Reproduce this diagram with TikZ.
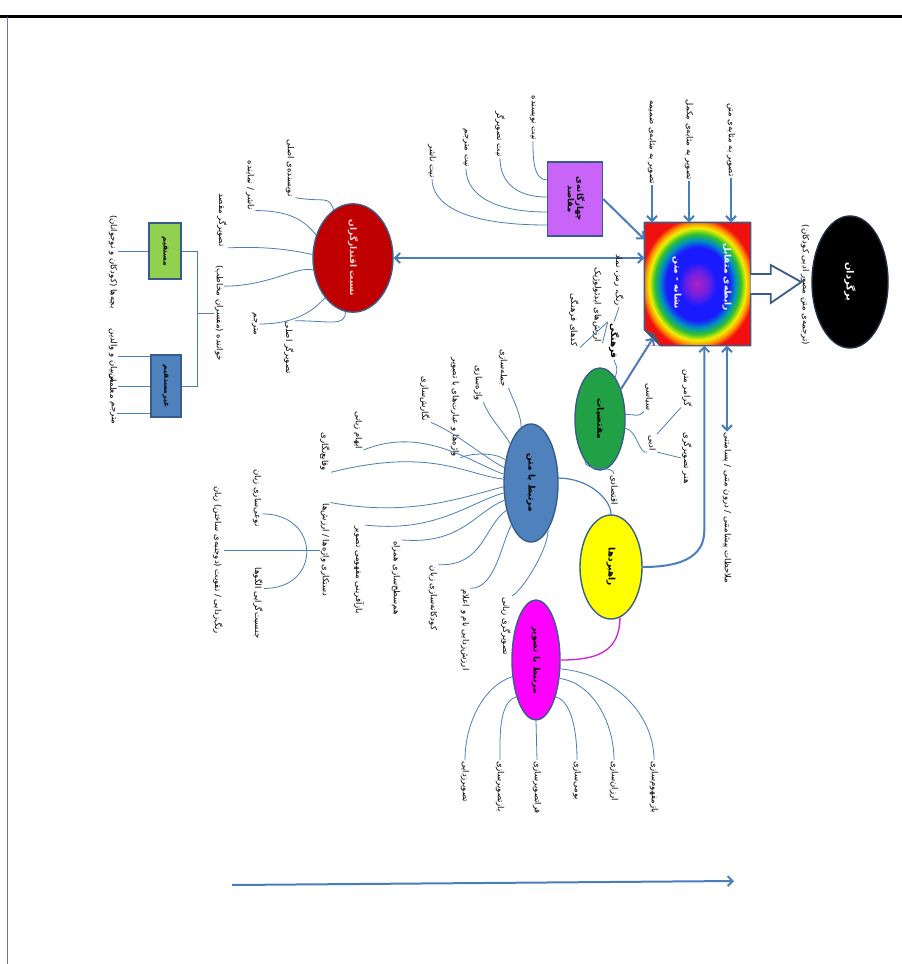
\documentclass[tikz,border=0pt]{standalone}
\usepackage{fontspec}
\usepackage{graphicx}
\newfontfamily\farsi[Script=Arabic]{DejaVu Sans}
\TeXXeTstate=1
\usetikzlibrary{positioning,shapes.geometric,arrows.meta,calc}
\newcommand{\rl}[1]{{\farsi\beginR #1\endR}}

\definecolor{linkblue}{HTML}{4A7EBB}
\definecolor{edgeblue}{HTML}{385D8A}
\definecolor{redfill}{HTML}{C00000}
\definecolor{greenfill}{HTML}{22A046}
\definecolor{bluefill}{HTML}{4F81BD}
\definecolor{violetfill}{HTML}{C864F8}
\definecolor{limefill}{HTML}{92D050}
\definecolor{yellowfill}{HTML}{FFFF00}
\definecolor{magentafill}{HTML}{FF00FF}
\definecolor{magline}{HTML}{D020D8}
\definecolor{foldc}{HTML}{6B4A5A}
\definecolor{rbA}{HTML}{B020C0}
\definecolor{rbB}{HTML}{7020E0}
\definecolor{rbC}{HTML}{1A1AFF}
\definecolor{rbD}{HTML}{0090C0}
\definecolor{rbE}{HTML}{30C030}
\definecolor{rbF}{HTML}{F0F000}
\definecolor{rbG}{HTML}{FF9000}
\definecolor{rbH}{HTML}{F01010}
\pgfdeclareradialshading{rainbow}{\pgfpoint{0bp}{0bp}}{color(0bp)=(rbA); color(5bp)=(rbB); color(9bp)=(rbC); color(15bp)=(rbC); color(18bp)=(rbD); color(20.5bp)=(rbE); color(23bp)=(rbF); color(25bp)=(rbG); color(27bp)=(rbH); color(50bp)=(rbH)}

\begin{document}
\begin{tikzpicture}[x=1pt,y=-1pt,
  lbl/.style={font=\fontsize{8.5}{9}\selectfont, rotate=-90, inner sep=1pt},
  ell/.style={ellipse, draw=edgeblue, line width=1.4pt, inner sep=0pt},
  rbx/.style={rectangle, draw=edgeblue, line width=1.4pt, inner sep=0pt},
  title/.style={font=\bfseries\fontsize{9}{10}\selectfont},
  branch/.style={linkblue, line width=0.8pt},
  thickarr/.style={linkblue, line width=2pt, -{Straight Barb[length=5pt,width=10pt]}},
  dblarr/.style={linkblue, line width=2pt, {Straight Barb[length=5pt,width=10pt]}-{Straight Barb[length=5pt,width=10pt]}}]

\useasboundingbox (0,0) rectangle (902,964);
\fill[white] (0,0) rectangle (902,964);
% page frame
\draw[line width=3pt] (0,16) -- (902,16);
\draw[linkblue!70!gray, line width=0.8pt] (7,17) -- (7,964);

% output
\node[ell, fill=black, draw=edgeblue!50!black, minimum width=76, minimum height=132, font=\bfseries\fontsize{10}{11}\selectfont, text=white] (trans) at (850,282)
  {\rotatebox{-90}{\rl{برگردان}}};
\node[lbl] (transSub) at (805,285) {\rl{(ترجمه‌ی متن مصور ادبی کودکان)}};

% core box
\node[rbx, draw=none, shading=rainbow, minimum width=105, minimum height=122] (core) at (697.5,284) {};
\fill[white] (core.south west) -- ++(16,0) -- ++(-16,-16) -- cycle;
\fill[foldc] ($(core.south west)+(0,-16)$) -- ($(core.south west)+(16,0)$) -- ($(core.south west)+(11,-12)$) -- cycle;
\draw[edgeblue, line width=1.4pt, line join=round] (core.north west) -- (core.north east) -- (core.south east)
  -- ($(core.south west)+(16,0)$) -- ($(core.south west)+(0,-16)$) -- cycle;
\node[lbl, title, text=white] (coreA) at (727,277) {\rl{رابطه‌ی متقابل}};
\node[lbl, title, text=white] (coreB) at (677,283) {\rl{نشانه - متن}};
\draw[edgeblue, line width=1.8pt, fill=white, line join=miter]
  ($(core.east)+(0,-10)$) -- ++(20,0) -- ++(0,-9) -- ($(trans.west)+(-10,0)$)
  -- ($(core.east)+(20,19)$) -- ++(0,-9) -- ($(core.east)+(0,10)$);

% image roles
\node[lbl] (asText) at (731,140) {\rl{تصویر به مثابه‌ی متن}};
\node[lbl] (asCompl) at (689,140) {\rl{تصویر به مثابه‌ی مکمل}};
\node[lbl] (asApp) at (652,142) {\rl{تصویر به مثابه‌ی ضمیمه}};
\foreach \n in {asText,asCompl,asApp}
  \draw[thickarr] (\n.east) -- (\n.east |- core.north);

% intentions
\node[rbx, fill=violetfill, minimum width=55, minimum height=74, font=\bfseries\fontsize{8.5}{9}\selectfont] (intent) at (575,199)
  {\rotatebox{-90}{\begin{tabular}{@{}c@{}}\rl{چهارگانه‌ی}\\\rl{مقاصد}\end{tabular}}};
\node[lbl] (intA) at (533,118) {\rl{نیت نویسنده}};
\node[lbl] (intI) at (500,134) {\rl{نیت تصویرگر}};
\node[lbl] (intT) at (466,148) {\rl{نیت مترجم}};
\node[lbl] (intP) at (432,161) {\rl{نیت ناشر}};
\draw[branch] ($(intent.west)+(0,-19)$) .. controls +(-14,0) and +(0,14) .. (intA.east);
\draw[branch] ($(intent.west)+(0,-2)$) .. controls +(-35,0) and +(0,20) .. (intI.east);
\draw[branch] ($(intent.west)+(0,13)$) .. controls +(-60,0) and +(0,22) .. (intT.east);
\draw[branch] ($(intent.west)+(0,26)$) .. controls +(-85,0) and +(0,25) .. (intP.east);
\draw[thickarr] (intent.east) -- ($(core.north west)+(0,17)$);

% agents
\node[ell, fill=redfill, minimum width=80, minimum height=108, title, text=red!15] (agents) at (353,258)
  {\rotatebox{-90}{\rl{نسبت اقتدارگران}}};
\draw[dblarr] (agents.east) -- (agents.east -| core.west);
\node[lbl] (agAuth) at (290,168) {\rl{نویسنده‌ی اصلی}};
\node[lbl] (agPub) at (250,185) {\rl{ناشر / نماینده}};
\node[lbl] (agTIll) at (222,220) {\rl{تصویرگر مقصد}};
\node[lbl] (reader) at (219,313) {\rl{خواننده (مفسران مخاطب)}};
\node[lbl] (agTrn) at (255,324) {\rl{مترجم}};
\node[lbl] (agIll) at (289,348) {\rl{تصویرگر اصلی}};
\draw[branch] (agAuth.north east) .. controls +(30,5) and +(-5,-15) .. (agents.112);
\draw[branch] (agPub.north east) .. controls +(38,0) and +(-10,-12) .. (agents.148);
\draw[branch] (agTIll.north east) .. controls +(45,-2) and +(-15,-3) .. (agents.175);
\draw[branch] ($(reader.north west)+(0,22)$) .. controls +(45,0) and +(-15,-5) .. (agents.197);
\draw[branch] (agTrn.north) .. controls +(40,0) and +(-10,10) .. (agents.235);
\draw[branch] (agIll.north west) .. controls +(35,0) and +(0,15) .. (agents.262);

% audience
\node[rbx, fill=limefill, minimum width=32, minimum height=56, font=\bfseries\fontsize{7.5}{8}\selectfont] (direct) at (165,251)
  {\rotatebox{-90}{\rl{مستقیم}}};
\node[rbx, fill=bluefill, minimum width=30, minimum height=62, font=\bfseries\fontsize{7.5}{8}\selectfont] (indirect) at (166,386)
  {\rotatebox{-90}{\rl{غیرمستقیم}}};
\draw[branch] (direct.east) -| ($(reader.south)+(-16,0)$) |- (indirect.east);
\draw[branch] (reader.south) -- ++(-16,0);
\node[lbl] (kids) at (113,262) {\rl{بچه‌ها (کودکان و نوجوانان)}};
\draw[branch] (direct.west) -- (direct.west -| kids.north);
\node[lbl] (parents) at (113,356) {\rl{مربیان و والدین}};
\node[lbl] (teach) at (113,386) {\rl{معلمان}};
\node[lbl] (trans2) at (113,413) {\rl{مترجم}};
\foreach \n in {parents,teach,trans2}
  \draw[branch] (indirect.west |- \n.north) -- (\n.north);

% requirements
\node[ell, fill=greenfill, minimum width=50, minimum height=102, title] (req) at (600,419)
  {\rotatebox{-90}{\rl{مقتضیات}}};
\draw[thickarr] (req.55) -- ($(core.south west)+(9,-8)$);
\node[lbl, title] (cult) at (614,341) {\rl{فرهنگی}};
\node[lbl] (cultA) at (619,280) {\rl{رنگ، رمز، نماد}};
\node[lbl] (cultB) at (597,305) {\rl{ارزش‌های ایدئولوژیک}};
\node[lbl] (cultC) at (574,320) {\rl{کدهای فرهنگی}};
\node[lbl] (pol) at (649,397) {\rl{سیاسی}};
\node[lbl] (lit) at (652,443) {\rl{ادبی}};
\node[lbl] (econ) at (614,490) {\rl{اقتصادی}};
\node[lbl] (litA) at (687,388) {\rl{گرامر متن}};
\node[lbl] (litB) at (687,458) {\rl{هنر تصویرگری}};
\draw[branch] (req.70) .. controls +(3,-10) and +(3,8) .. (cult.east);
\draw[branch] (cult.west) -- (cultA.east);
\draw[branch] (cult.south west) -- (cultB.north east);
\draw[branch] (cult.south west) -- (cultC.north east);
\draw[branch] (req.10) .. controls +(12,0) and +(-6,6) .. (pol.south east);
\draw[branch] (req.-20) .. controls +(12,2) and +(-8,3) .. (lit.south east);
\draw[branch] (lit.north west) -- (litA.south east);
\draw[branch] (lit.north east) -- (litB.south);
\draw[branch] (req.250) .. controls +(0,12) and +(0,-10) .. (econ.west);

% strategies
\node[ell, fill=yellowfill, minimum width=62, minimum height=104, title] (strat) at (611,567)
  {\rotatebox{-90}{\rl{راهبردها}}};
\draw[thickarr] (strat.east) .. controls +(35,0) and +(0,28) .. ($(core.south west)+(60,185)$) -- ($(core.south west)+(60,0)$);
\node[lbl] (notes) at (727,508) {\rl{ملاحظات پیشامتنی / درون متنی / پسامتنی}};
\draw[dblarr] (notes.west |- core.south) -- (notes.west);

% text related
\node[ell, fill=bluefill, minimum width=54, minimum height=118, title] (txt) at (531,483)
  {\rotatebox{-90}{\rl{مرتبط با متن}}};
\draw[branch, line width=1.2pt] (txt.10) .. controls +(30,0) and +(0,-15) .. (strat.north);
\node[lbl] (tU1) at (503,368) {\rl{جمله‌سازی}};
\node[lbl] (tU2) at (478,383) {\rl{واژه‌سازی}};
\node[lbl] (tU3) at (455,407) {\rl{واژه‌ها و عبارت‌های با تصویر}};
\node[lbl] (tU4) at (425,399) {\rl{نگارش‌سازی}};
\node[lbl] (tU5) at (358,430) {\rl{ایهام زبانی}};
\node[lbl] (tU6) at (325,452) {\rl{وقایع‌نگاری}};
\draw[branch] (tU1.north east) .. controls +(5,12) and +(0,-12) .. (txt.100);
\draw[branch] (tU2.north east) .. controls +(5,15) and +(-5,-10) .. (txt.118);
\draw[branch] (tU3.north east) .. controls +(10,-5) and +(-10,-8) .. (txt.138);
\draw[branch] (tU4.north east) .. controls +(25,10) and +(-20,-10) .. (txt.150);
\draw[branch] (tU5.north east) .. controls +(60,-25) and +(-30,-10) .. (txt.162);
\draw[branch] (tU6.north east) .. controls +(100,-25) and +(-40,-5) .. (txt.172);
\node[lbl] (tD1) at (325,550) {\rl{دستکاری واژه‌ها / ارزش‌ها}};
\node[lbl] (tD2) at (359,570) {\rl{بازآفرینی مفهومی تصویر}};
\node[lbl] (tD3) at (396,578) {\rl{هم‌سطح‌سازی همراه}};
\node[lbl] (tD4) at (433,598) {\rl{کودکانه‌سازی زبان}};
\node[lbl] (tD5) at (465,630) {\rl{ارزش‌زدایی نام و اعلام}};
\node[lbl] (tD6) at (506,626) {\rl{تصویرگری زبانی}};
\draw[branch] (tD1.north west) .. controls +(80,15) and +(-40,10) .. (txt.188);
\draw[branch] (tD2.north west) .. controls +(70,8) and +(-35,10) .. (txt.200);
\draw[branch] (tD3.north west) .. controls +(60,5) and +(-30,12) .. (txt.213);
\draw[branch] (tD4.north west) .. controls +(45,2) and +(-22,15) .. (txt.228);
\draw[branch] (tD5.north west) .. controls +(25,0) and +(-10,18) .. (txt.245);
\draw[branch] (tD6.north west) .. controls +(10,-5) and +(0,20) .. (txt.290);
% values subgroup
\node[lbl] (valA) at (257,498) {\rl{نوعی‌سازی زبان}};
\node[lbl] (valB) at (258,603) {\rl{جنسیت‌گرایی الگوها}};
\node[lbl] (valC) at (218,560) {\rl{رنگ‌زدایی / تقویت (دوجنبه‌ی ساختن) زبان}};
\draw[branch] ($(valA.north east)+(0,-14)$) .. controls +(58,0) and +(58,0) .. ($(valB.north west)+(0,22)$);
\draw[branch] (valC.north |- tD1.south) -- (tD1.south);

% image related
\node[ell, fill=magentafill, minimum width=48, minimum height=120, title] (img) at (536,660)
  {\rotatebox{-90}{\rl{مرتبط با تصویر}}};
\draw[magline, line width=1.3pt] (strat.280) .. controls +(0,35) and +(35,0) .. (img.east);
\node[lbl, anchor=west] (iB1) at (465,760) {\rl{تصویرزدایی}};
\node[lbl, anchor=west] (iB2) at (500,760) {\rl{بازتصویرسازی}};
\node[lbl, anchor=west] (iB3) at (537,760) {\rl{فراتصویرسازی}};
\node[lbl, anchor=west] (iB4) at (577,760) {\rl{بومی‌سازی}};
\node[lbl, anchor=west] (iB5) at (614,760) {\rl{ارزان‌سازی}};
\node[lbl, anchor=west] (iB6) at (654,760) {\rl{بازمفهوم‌سازی}};
\draw[branch] (img.215) .. controls +(-30,10) and +(0,-35) .. (iB1.west);
\draw[branch] (img.242) .. controls +(-18,5) and +(0,-22) .. (iB2.west);
\draw[branch] (img.south) -- (iB3.west);
\draw[branch] (img.298) .. controls +(18,5) and +(0,-22) .. (iB4.west);
\draw[branch] (img.322) .. controls +(35,5) and +(0,-35) .. (iB5.west);
\draw[branch] (img.340) .. controls +(55,5) and +(0,-45) .. (iB6.west);

% time axis
\coordinate (axisA) at (232,885);
\coordinate (axisB) at (734,881);
\draw[thickarr] (axisA) -- (axisB);
\end{tikzpicture}
\end{document}
